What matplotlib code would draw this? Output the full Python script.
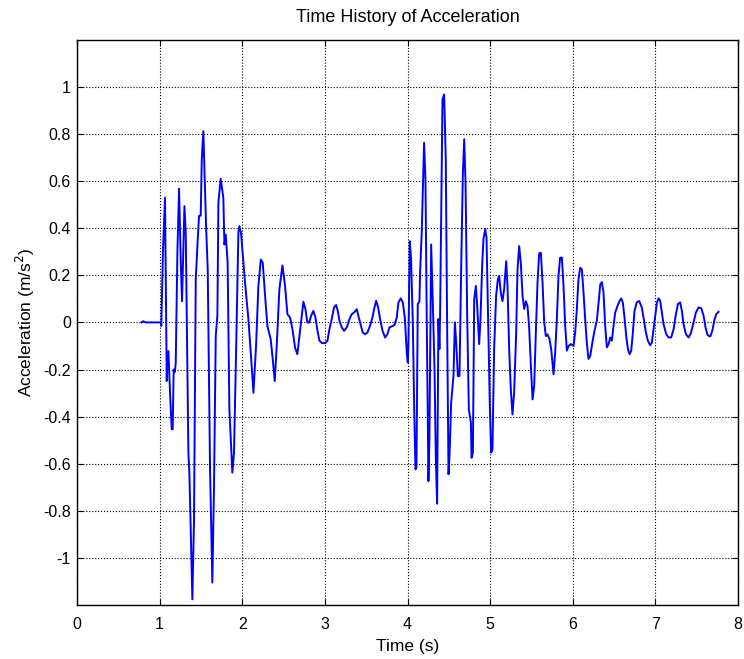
import matplotlib
matplotlib.use('Agg')
from matplotlib import pyplot as plt

# sampled acceleration record (s, m/s^2)
time = [
    0.78, 0.80, 0.83, 1.017, 1.02, 1.04, 1.065, 1.086, 1.096, 1.106,
    1.115, 1.126, 1.146, 1.158, 1.170, 1.185, 1.195, 1.215, 1.235, 1.255,
    1.271, 1.30, 1.316, 1.348, 1.36, 1.396, 1.416, 1.437, 1.461, 1.477,
    1.497, 1.510, 1.529, 1.562, 1.582, 1.610, 1.638, 1.658, 1.679, 1.699,
    1.711, 1.739, 1.771, 1.784, 1.800, 1.823, 1.844, 1.880, 1.900, 1.925,
    1.953, 1.965, 1.985, 2.034, 2.074, 2.103, 2.135, 2.167, 2.195, 2.224,
    2.248, 2.276, 2.304, 2.344, 2.369, 2.393, 2.417, 2.449, 2.486, 2.518,
    2.546, 2.578, 2.607, 2.639, 2.667, 2.692, 2.720, 2.740, 2.764, 2.788,
    2.810, 2.833, 2.861, 2.885, 2.910, 2.934, 2.966, 3.003, 3.031, 3.055,
    3.083, 3.111, 3.136, 3.156, 3.176, 3.204, 3.232, 3.265, 3.297, 3.325,
    3.353, 3.386, 3.410, 3.434, 3.458, 3.487, 3.515, 3.547, 3.580, 3.600,
    3.620, 3.644, 3.668, 3.697, 3.729, 3.757, 3.781, 3.810, 3.842, 3.870,
    3.890, 3.919, 3.943, 3.967, 3.991, 4.003, 4.011, 4.027, 4.043, 4.064,
    4.080, 4.096, 4.108, 4.124, 4.144, 4.152, 4.172, 4.200, 4.217, 4.233,
    4.253, 4.265, 4.286, 4.306, 4.326, 4.342, 4.358, 4.374, 4.386, 4.394,
    4.406, 4.423, 4.443, 4.463, 4.479, 4.496, 4.508, 4.528, 4.556, 4.573,
    4.589, 4.609, 4.629, 4.649, 4.670, 4.686, 4.702, 4.722, 4.742, 4.767,
    4.775, 4.791, 4.807, 4.827, 4.843, 4.867, 4.883, 4.903, 4.919, 4.940,
    4.956, 4.976, 4.996, 5.012, 5.028, 5.048, 5.072, 5.093, 5.109, 5.129,
    5.149, 5.169, 5.194, 5.210, 5.230, 5.250, 5.270, 5.290, 5.315, 5.331,
    5.351, 5.371, 5.392, 5.412, 5.432, 5.452, 5.472, 5.493, 5.513, 5.533,
    5.553, 5.573, 5.593, 5.614, 5.634, 5.654, 5.674, 5.694, 5.718, 5.739,
    5.767, 5.787, 5.807, 5.827, 5.847, 5.868, 5.888, 5.908, 5.928, 5.948,
    5.977, 6.009, 6.029, 6.049, 6.069, 6.090, 6.110, 6.130, 6.150, 6.170,
    6.190, 6.211, 6.243, 6.271, 6.291, 6.312, 6.332, 6.352, 6.372, 6.392,
    6.412, 6.433, 6.453, 6.473, 6.493, 6.513, 6.541, 6.566, 6.586, 6.606,
    6.626, 6.646, 6.667, 6.687, 6.707, 6.727, 6.747, 6.775, 6.804, 6.836,
    6.856, 6.885, 6.909, 6.937, 6.957, 6.977, 6.998, 7.018, 7.038, 7.058,
    7.078, 7.098, 7.131, 7.159, 7.191, 7.220, 7.248, 7.272, 7.300, 7.320,
    7.340, 7.369, 7.401, 7.429, 7.462, 7.490, 7.522, 7.555, 7.583, 7.607,
    7.631, 7.664, 7.688, 7.712, 7.736, 7.764,
]
accel = [
    0.0, 0.005, 0.0, 0.0, -0.015, 0.30, 0.53, -0.249, -0.13, -0.122,
    -0.20, -0.30, -0.454, -0.454, -0.20, -0.21, -0.17, 0.30, 0.568, 0.268,
    0.09, 0.494, 0.38, -0.553, -0.638, -1.176, -0.84, 0.183, 0.353, 0.453,
    0.453, 0.692, 0.812, 0.409, 0.225, -0.624, -1.105, -0.696, -0.058, 0.03,
    0.508, 0.61, 0.529, 0.331, 0.373, 0.253, -0.369, -0.638, -0.553, -0.128,
    0.381, 0.409, 0.38, 0.168, 0.014, -0.129, -0.299, -0.10, 0.154, 0.267,
    0.253, 0.113, -0.015, -0.071, -0.157, -0.249, -0.10, 0.14, 0.242, 0.154,
    0.035, 0.021, -0.028, -0.107, -0.135, -0.057, 0.028, 0.088, 0.057, 0.0,
    0.0, 0.028, 0.049, 0.021, -0.035, -0.078, -0.088, -0.088, -0.078, -0.028,
    0.014, 0.064, 0.074, 0.049, 0.007, -0.021, -0.036, -0.021, 0.014, 0.035,
    0.042, 0.056, 0.021, -0.011, -0.043, -0.05, -0.043, -0.014, 0.028, 0.064,
    0.092, 0.064, 0.014, -0.035, -0.064, -0.05, -0.021, -0.017, -0.011, 0.021,
    0.085, 0.102, 0.085, 0.021, -0.129, -0.17, -0.086, 0.345, 0.267, 0.0,
    -0.354, -0.624, -0.617, 0.078, 0.088, 0.212, 0.382, 0.763, 0.607, 0.0,
    -0.674, -0.497, 0.331, 0.084, -0.185, -0.568, -0.77, 0.014, -0.113, 0.028,
    0.395, 0.947, 0.968, 0.692, 0.0, -0.645, -0.568, -0.341, -0.228, 0.0,
    -0.085, -0.228, -0.228, 0.226, 0.637, 0.778, 0.594, 0.028, -0.369, -0.426,
    -0.575, -0.553, 0.099, 0.155, 0.071, -0.092, 0.014, 0.241, 0.354, 0.397,
    0.36, 0.0, -0.354, -0.553, -0.539, -0.115, 0.113, 0.183, 0.197, 0.126,
    0.09, 0.14, 0.26, 0.154, -0.115, -0.285, -0.391, -0.299, -0.042, 0.225,
    0.324, 0.253, 0.113, 0.057, 0.09, 0.07, -0.022, -0.185, -0.327, -0.27,
    -0.042, 0.168, 0.293, 0.296, 0.168, 0.0, -0.058, -0.051, -0.071, -0.115,
    -0.22, -0.127, 0.014, 0.197, 0.275, 0.275, 0.154, -0.014, -0.12, -0.10,
    -0.092, -0.10, -0.042, 0.057, 0.184, 0.232, 0.225, 0.126, 0.014, -0.087,
    -0.155, -0.143, -0.072, -0.022, 0.007, 0.083, 0.161, 0.171, 0.126, -0.014,
    -0.106, -0.093, -0.064, -0.078, -0.014, 0.042, 0.07, 0.091, 0.102, 0.084,
    0.021, -0.057, -0.113, -0.135, -0.121, -0.043, 0.049, 0.086, 0.091, 0.062,
    0.021, -0.043, -0.078, -0.097, -0.086, -0.029, 0.027, 0.084, 0.102, 0.091,
    0.042, -0.007, -0.05, -0.064, -0.064, -0.029, 0.035, 0.078, 0.085, 0.049,
    -0.007, -0.05, -0.064, -0.046, 0.0, 0.042, 0.064, 0.06, 0.028, -0.022,
    -0.054, -0.06, -0.036, 0.007, 0.035, 0.045,
]

x_ticks = [0, 1, 2, 3, 4, 5, 6, 7, 8]
y_ticks = [-1, -0.8, -0.6, -0.4, -0.2, 0, 0.2, 0.4, 0.6, 0.8, 1]
y_tick_labels = ['-1', '-0.8', '-0.6', '-0.4', '-0.2', '0',
                 '0.2', '0.4', '0.6', '0.8', '1']


def main():
    plt.rcParams['font.family'] = ['Liberation Sans', 'DejaVu Sans']
    plt.rcParams['axes.unicode_minus'] = False

    fig = plt.figure(figsize=(7.44, 6.59), dpi=100)
    ax = fig.add_axes([0.1035, 0.082, 0.8885, 0.8575])

    ax.plot(time, accel, color='#0000ff', linewidth=1.4)

    ax.set_xlim(0, 8)
    ax.set_ylim(-1.2, 1.2)
    ax.set_xticks(x_ticks)
    ax.set_yticks(y_ticks)
    ax.set_yticklabels(y_tick_labels)
    ax.grid(True, color='black', linestyle=':', linewidth=0.8)
    ax.tick_params(direction='in', top=True, right=True, length=4,
                   labelsize=11.5, colors='black')
    ax.tick_params(axis='x', pad=9)
    ax.tick_params(axis='y', pad=4.5)
    for spine in ax.spines.values():
        spine.set_linewidth(1.0)

    ax.set_title('Time History of Acceleration', fontsize=13, pad=13)
    ax.set_xlabel('Time (s)', fontsize=12.5, labelpad=5)
    ax.set_ylabel('Acceleration (m/s$^2$)', fontsize=12.5, labelpad=4)

    fig.savefig('out.png', dpi=100)


if __name__ == '__main__':
    main()
